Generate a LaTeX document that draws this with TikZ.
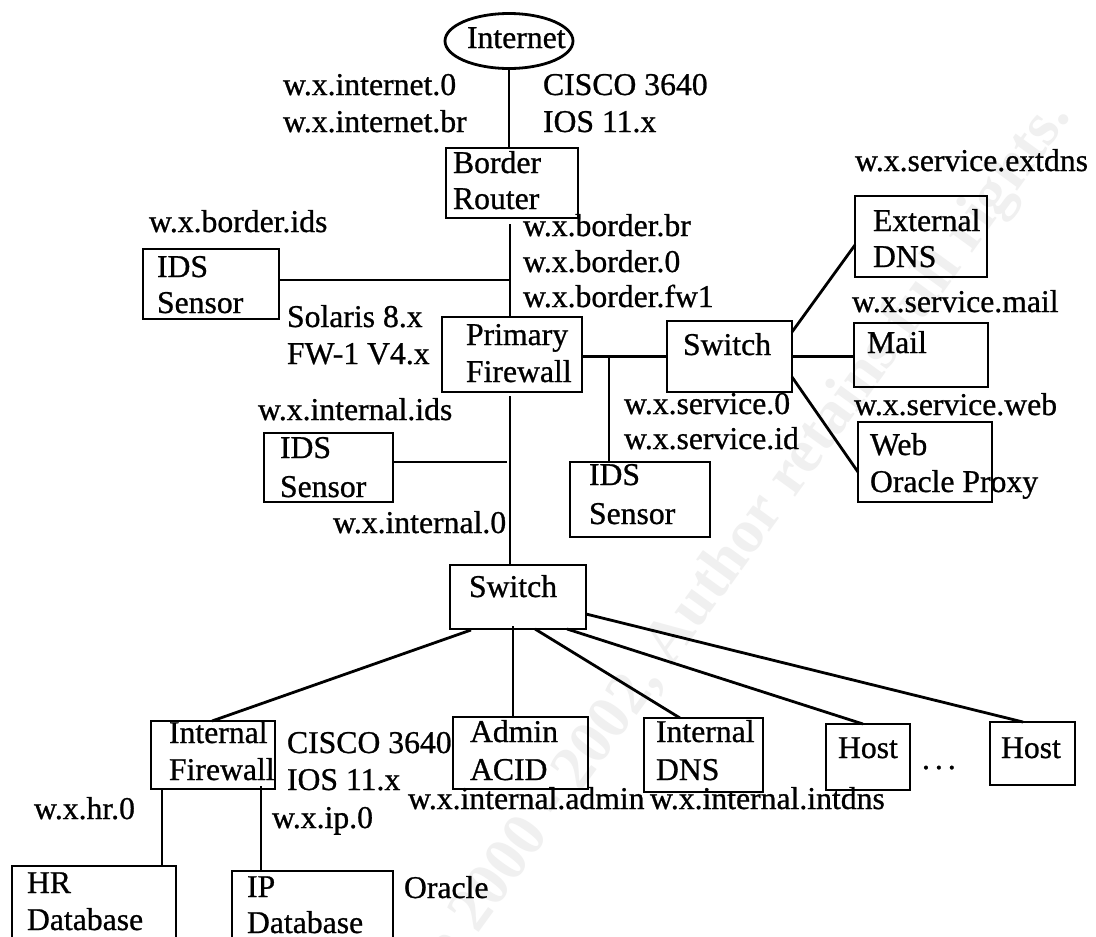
\documentclass[tikz,border=0pt]{standalone}
\usepackage{fontspec}
\setmainfont{Liberation Serif}[FakeBold=0.8]
\newfontfamily\wmfont{Liberation Serif}[Weight=Bold,BoldFont={* Bold}]
\usetikzlibrary{shapes.geometric,calc}
\tikzset{
  box/.style={draw, rectangle, inner sep=0pt, outer sep=0pt, line width=2.8pt},
  oval/.style={draw, ellipse, inner sep=0pt, outer sep=0pt, line width=2.8pt},
  lbl/.style={anchor=base west, inner sep=0pt, outer sep=0pt, font=\fontsize{31.7pt}{37pt}\selectfont},
  wire/.style={line width=2.8pt},
  wmark/.style={anchor=base east, inner sep=0pt, text=black!6, font=\wmfont\fontsize{62pt}{70pt}\selectfont\bfseries}
}
\begin{document}
\begin{tikzpicture}[x=1pt,y=-1pt]
\useasboundingbox (0,0) rectangle (1096,937);
\begin{scope}
\clip (0,0) rectangle (1096,937);
\fill[white] (0,0) rectangle (1096,937);
\node[wmark, rotate=54] (wm) at (1072,116) {\textcopyright\ SANS Institute 2000 - 2002, Author retains full rights.};

% boxes
\node[oval, minimum width=128pt, minimum height=55pt] (inet) at (509,41) {};
\node[box, minimum width=132pt, minimum height=70pt] (br) at (512,183) {};
\node[box, minimum width=136pt, minimum height=70pt] (ids1) at (211,284) {};
\node[box, minimum width=140pt, minimum height=75pt] (pfw) at (512,354.5) {};
\node[box, minimum width=129pt, minimum height=69pt] (ids2) at (328.5,467.5) {};
\node[box, minimum width=125pt, minimum height=71pt] (sw1) at (729.5,356.5) {};
\node[box, minimum width=140pt, minimum height=75pt] (ids3) at (640,499.5) {};
\node[box, minimum width=132pt, minimum height=81pt] (edns) at (921,236.5) {};
\node[box, minimum width=134pt, minimum height=64pt] (mail) at (921,355) {};
\node[box, minimum width=134pt, minimum height=80pt] (web) at (925,462) {};
\node[box, minimum width=136pt, minimum height=64pt] (sw2) at (518,597) {};
\node[box, minimum width=124pt, minimum height=68pt] (ifw) at (213,755) {};
\node[box, minimum width=135pt, minimum height=72pt] (admin) at (520.5,753) {};
\node[box, minimum width=119pt, minimum height=74pt] (idns) at (703.5,755) {};
\node[box, minimum width=84pt, minimum height=66pt] (host1) at (868,757) {};
\node[box, minimum width=85pt, minimum height=63pt] (host2) at (1032.5,753.5) {};
\node[box, minimum width=164pt, minimum height=94pt] (hr) at (94,913) {};
\node[box, minimum width=161pt, minimum height=89pt] (ip) at (312.5,915.5) {};

% texts in boxes
\node[lbl] (tinet) at (467,48) {Internet};
\node[lbl] (tbr1) at (453,173) {Border};
\node[lbl] (tbr2) at (453,209) {Router};
\node[lbl] (tids1a) at (157,277) {IDS};
\node[lbl] (tids1b) at (157,313) {Sensor};
\node[lbl] (tpfw1) at (466,345) {Primary};
\node[lbl] (tpfw2) at (466,382) {Firewall};
\node[lbl] (tids2a) at (280,458) {IDS};
\node[lbl] (tids2b) at (280,497) {Sensor};
\node[lbl] (tsw1) at (683,355) {Switch};
\node[lbl] (tids3a) at (589,485) {IDS};
\node[lbl] (tids3b) at (589,524) {Sensor};
\node[lbl] (tedns1) at (873,231) {External};
\node[lbl] (tedns2) at (873,267) {DNS};
\node[lbl] (tmail) at (867,353) {Mail};
\node[lbl] (tweb1) at (870,455) {Web};
\node[lbl] (tweb2) at (870,492) {Oracle Proxy};
\node[lbl] (tsw2) at (469,597) {Switch};
\node[lbl] (tifw1) at (169,743) {Internal};
\node[lbl] (tifw2) at (169,780) {Firewall};
\node[lbl] (tadm1) at (470,742) {Admin};
\node[lbl] (tadm2) at (470,780) {ACID};
\node[lbl] (tidns1) at (656,742) {Internal};
\node[lbl] (tidns2) at (656,780) {DNS};
\node[lbl] (th1) at (838,758) {Host};
\node[lbl] (th2) at (1001,758) {Host};
\node[lbl] (thr1) at (27,893) {HR};
\node[lbl] (thr2) at (27,930) {Database};
\node[lbl] (tip1) at (247,897) {IP};
\node[lbl] (tip2) at (247,933) {Database};

% free labels
\node[lbl] (a1) at (283,95) {w.x.internet.0};
\node[lbl] (a2) at (283,132) {w.x.internet.br};
\node[lbl] (a3) at (543,95) {CISCO 3640};
\node[lbl] (a4) at (543,132) {IOS 11.x};
\node[lbl] (a5) at (149,232) {w.x.border.ids};
\node[lbl] (a6) at (523,236) {w.x.border.br};
\node[lbl] (a7) at (523,272) {w.x.border.0};
\node[lbl] (a8) at (523,307) {w.x.border.fw1};
\node[lbl] (a9) at (287,327) {Solaris 8.x};
\node[lbl] (a10) at (287,364) {FW-1 V4.x};
\node[lbl] (a11) at (258,420) {w.x.internal.ids};
\node[lbl] (a12) at (624,414) {w.x.service.0};
\node[lbl] (a13) at (624,449) {w.x.service.id};
\node[lbl] (a14) at (855,171) {w.x.service.extdns};
\node[lbl] (a15) at (852,312) {w.x.service.mail};
\node[lbl] (a16) at (854,415) {w.x.service.web};
\node[lbl] (a17) at (333,533) {w.x.internal.0};
\node[lbl] (a18) at (287,753) {CISCO 3640};
\node[lbl] (a19) at (287,790) {IOS 11.x};
\node[lbl] (a20) at (408,809) {w.x.internal.admin};
\node[lbl] (a21) at (650,809) {w.x.internal.intdns};
\node[lbl] (a22) at (34,819) {w.x.hr.0};
\node[lbl] (a23) at (272,828) {w.x.ip.0};
\node[lbl] (a24) at (404,898) {Oracle};
\node[lbl] (a25) at (922,769) {.\hspace{5pt}.\hspace{5pt}.};

% junction points
\coordinate (bt) at (510,280);
\coordinate (sj) at (609,356.5);
\coordinate (it) at (507,462);

% connectors
\draw[wire] (inet.south) -- (inet.south |- br.north);
\draw[wire] ($(br.south)+(-2,6)$) -- ($(pfw.north)+(-2,0)$);
\draw[wire] (ids1.east |- bt) -- (bt);
\draw[wire] (pfw.east |- sw1.west) -- (sw1.west);
\draw[wire] (sj) -- (sj |- ids3.north);
\draw[wire] ($(pfw.south)+(-2,4)$) -- ($(sw2.north)+(-8,0)$);
\draw[wire] (ids2.east |- it) -- (it);
\draw[wire] ($(sw1.north east)+(0,11)$) -- ($(edns.south west)+(0,-32)$);
\draw[wire] (sw1.east) -- (sw1.east -| mail.west);
\draw[wire] ($(sw1.south east)+(0,-15)$) -- ($(web.south west)+(0,-30)$);
\draw[wire] ($(sw2.south west)+(21,1)$) -- ($(ifw.north west)+(61,0)$);
\draw[wire] ($(sw2.south west)+(63,-3)$) -- ($(admin.north west)+(60,0)$);
\draw[wire] ($(sw2.south west)+(85,0)$) -- ($(idns.north west)+(36,0)$);
\draw[wire] ($(sw2.south west)+(117,0)$) -- ($(host1.north west)+(37,0)$);
\draw[wire] ($(sw2.south east)+(0,-15)$) -- ($(host2.north west)+(33,0)$);
\draw[wire] ($(ifw.south west)+(11,0)$) coordinate (hrt) -- (hrt |- hr.north);
\draw[wire] ($(ifw.south west)+(110,-3)$) coordinate (ipt) -- (ipt |- ip.north);
\end{scope}
\end{tikzpicture}
\end{document}
